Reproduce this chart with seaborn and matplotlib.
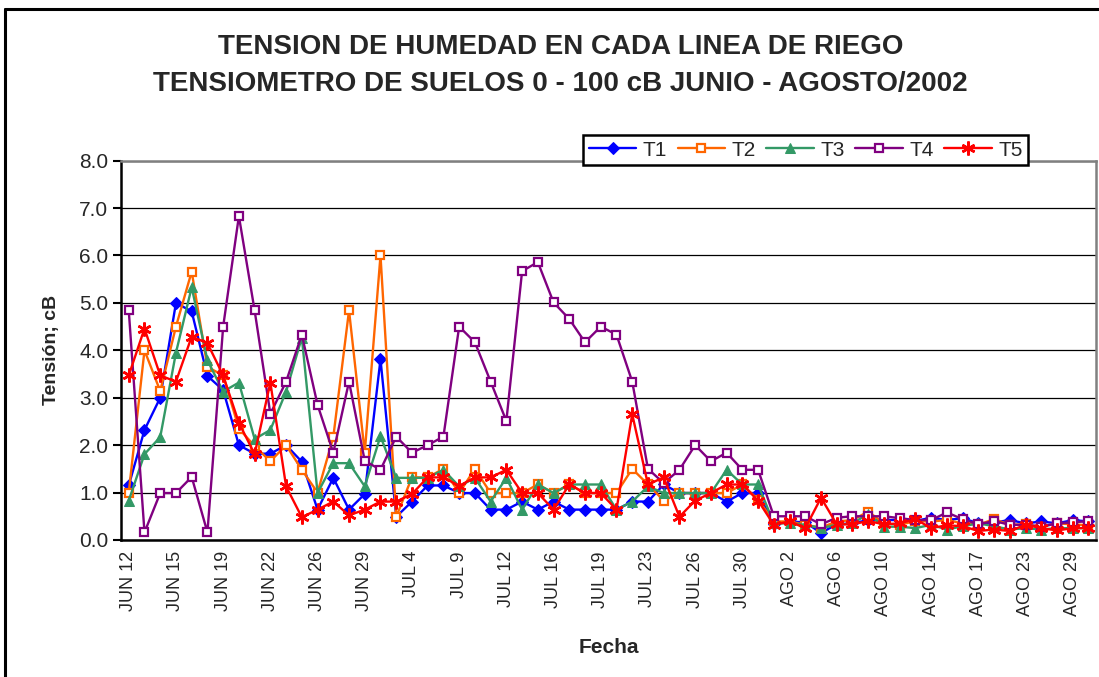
import numpy as np
import pandas as pd
import matplotlib
matplotlib.use('Agg')
import matplotlib.pyplot as plt
import seaborn as sns

# Fechas de lectura (una de cada tres se rotula en el eje)
fechas = ['JUN 12', 'JUN 13', 'JUN 14', 'JUN 15', 'JUN 17', 'JUN 18', 'JUN 19', 'JUN 20', 'JUN 21',
          'JUN 22', 'JUN 24', 'JUN 25', 'JUN 26', 'JUN 27', 'JUN 28', 'JUN 29', 'JUL 1', 'JUL 2',
          'JUL 4', 'JUL 5', 'JUL 8', 'JUL 9', 'JUL 10', 'JUL 11', 'JUL 12', 'JUL 13', 'JUL 15',
          'JUL 16', 'JUL 17', 'JUL 18', 'JUL 19', 'JUL 20', 'JUL 22', 'JUL 23', 'JUL 24', 'JUL 25',
          'JUL 26', 'JUL 27', 'JUL 29', 'JUL 30', 'JUL 31', 'AGO 1', 'AGO 2', 'AGO 3', 'AGO 5',
          'AGO 6', 'AGO 7', 'AGO 9', 'AGO 10', 'AGO 12', 'AGO 13', 'AGO 14', 'AGO 15', 'AGO 16',
          'AGO 17', 'AGO 20', 'AGO 21', 'AGO 23', 'AGO 26', 'AGO 27', 'AGO 29', 'AGO 31']

t1 = [1.15, 2.32, 3.0, 5.0, 4.82, 3.46, 3.16, 2.0, 1.82, 1.82, 2.0, 1.65, 0.64, 1.31, 0.64, 0.97,
      3.81, 0.49, 0.81, 1.15, 1.15, 0.99, 0.99, 0.64, 0.64, 0.81, 0.64, 0.81, 0.64, 0.64, 0.64, 0.64,
      0.81, 0.81, 1.17, 0.99, 0.99, 0.99, 0.81, 0.99, 0.99, 0.33, 0.39, 0.37, 0.15, 0.33, 0.35, 0.42,
      0.42, 0.42, 0.40, 0.47, 0.42, 0.46, 0.35, 0.37, 0.42, 0.35, 0.39, 0.35, 0.42, 0.39]
t2 = [1.0, 4.0, 3.14, 4.5, 5.66, 3.65, 3.47, 2.35, 1.98, 1.66, 2.0, 1.48, 1.0, 2.17, 4.84, 1.84,
      6.0, 0.49, 1.32, 1.32, 1.5, 0.99, 1.5, 0.99, 0.99, 0.99, 1.17, 0.99, 1.17, 0.99, 0.99, 0.99,
      1.5, 1.17, 0.83, 0.99, 0.99, 0.99, 0.99, 1.17, 0.85, 0.39, 0.39, 0.32, 0.26, 0.39, 0.42, 0.6,
      0.35, 0.32, 0.40, 0.39, 0.42, 0.35, 0.32, 0.44, 0.32, 0.33, 0.28, 0.35, 0.33, 0.31]
t3 = [0.83, 1.81, 2.17, 3.95, 5.33, 3.79, 3.13, 3.32, 2.13, 2.32, 3.13, 4.27, 0.99, 1.62, 1.62, 1.13,
      2.19, 1.31, 1.31, 1.31, 1.48, 1.13, 1.31, 0.81, 1.31, 0.64, 1.17, 0.99, 1.17, 1.17, 1.17, 0.64,
      0.81, 1.13, 0.99, 0.99, 0.99, 0.99, 1.48, 1.17, 1.17, 0.35, 0.35, 0.32, 0.25, 0.32, 0.35, 0.55,
      0.28, 0.28, 0.25, 0.32, 0.22, 0.29, 0.35, 0.29, 0.22, 0.25, 0.22, 0.25, 0.25, 0.25]
t4 = [4.84, 0.16, 0.99, 0.99, 1.33, 0.16, 4.5, 6.83, 4.84, 2.66, 3.34, 4.33, 2.85, 1.84, 3.34, 1.67,
      1.48, 2.18, 1.84, 2.0, 2.18, 4.5, 4.17, 3.34, 2.51, 5.67, 5.86, 5.01, 4.66, 4.17, 4.5, 4.33,
      3.34, 1.5, 1.2, 1.48, 2.0, 1.66, 1.84, 1.48, 1.48, 0.5, 0.5, 0.5, 0.33, 0.47, 0.5, 0.5,
      0.5, 0.46, 0.42, 0.42, 0.58, 0.44, 0.33, 0.40, 0.32, 0.32, 0.28, 0.35, 0.37, 0.40]
t5 = [3.47, 4.46, 3.47, 3.34, 4.29, 4.15, 3.47, 2.47, 1.81, 3.32, 1.13, 0.48, 0.64, 0.81, 0.52, 0.64,
      0.81, 0.81, 0.97, 1.32, 1.32, 1.14, 1.32, 1.32, 1.48, 0.99, 0.99, 0.64, 1.17, 0.99, 0.99, 0.64,
      2.65, 1.17, 1.32, 0.49, 0.83, 0.99, 1.17, 1.17, 0.83, 0.32, 0.39, 0.25, 0.89, 0.33, 0.33, 0.40,
      0.33, 0.35, 0.44, 0.25, 0.31, 0.29, 0.19, 0.22, 0.19, 0.32, 0.25, 0.20, 0.25, 0.25]

series = ['T1', 'T2', 'T3', 'T4', 'T5']
valores = [t1, t2, t3, t4, t5]

df = pd.DataFrame({'pos': np.arange(len(fechas)), 'Fecha': fechas})
for nombre, vals in zip(series, valores):
    df[nombre] = vals

sns.set_style('white')
plt.rcParams['font.family'] = ['Liberation Sans', 'DejaVu Sans']

estilos = {
    'T1': dict(color='#0000FF', marker='D', markersize=6.5, markerfacecolor='#0000FF', markeredgecolor='#0000FF'),
    'T2': dict(color='#FF6600', marker='s', markersize=6, markerfacecolor='white', markeredgecolor='#FF6600', markeredgewidth=1.6),
    'T3': dict(color='#339966', marker='^', markersize=7.5, markerfacecolor='#339966', markeredgecolor='#339966'),
    'T4': dict(color='#800080', marker='s', markersize=5.5, markerfacecolor='white', markeredgecolor='#800080', markeredgewidth=1.6),
    'T5': dict(color='#FF0000', marker=(6, 2, 0), markersize=10, markeredgecolor='#FF0000', markeredgewidth=1.8),
}

fig = plt.figure(figsize=(10.99, 6.77), dpi=100)
ax = fig.add_axes([0.110, 0.2024, 0.8876, 0.5603])

for nombre in series:
    sns.lineplot(data=df, x='pos', y=nombre, ax=ax, label=nombre, linewidth=1.7, **estilos[nombre])

ax.set_xlim(-0.5, len(fechas) - 0.5)
ax.set_ylim(0, 8)

# etiquetas cada tres fechas, marcas entre categorias
ax.set_xticks(df['pos'][::3])
ax.set_xticklabels(df['Fecha'][::3], rotation=90, fontsize=13)
ax.set_xticks(np.arange(len(fechas) + 1) - 0.5, minor=True)
ax.tick_params(axis='x', which='major', length=0, pad=8)
ax.tick_params(axis='x', which='minor', length=6, width=1.5, direction='out', color='black')

ax.set_yticks(np.arange(0, 8.1, 1))
ax.set_yticklabels([f'{v:.1f}' for v in np.arange(0, 8.1, 1)], fontsize=15)
ax.tick_params(axis='y', length=6, width=1.5, direction='out', color='black', left=True, pad=3)

ax.grid(axis='y', color='black', linewidth=0.9)
ax.set_axisbelow(True)

for lado in ['left', 'bottom']:
    ax.spines[lado].set_color('black')
    ax.spines[lado].set_linewidth(1.8)
for lado in ['top', 'right']:
    ax.spines[lado].set_color('#808080')
    ax.spines[lado].set_linewidth(1.8)

ax.set_xlabel('Fecha', fontsize=15, fontweight='bold', labelpad=16)
ax.set_ylabel('Tensión; cB', fontsize=14, fontweight='bold', labelpad=14)

leg = ax.legend(loc='center', bbox_to_anchor=(0.702, 1.028), ncol=5, fontsize=15,
                frameon=True, fancybox=False, edgecolor='black', framealpha=1,
                handlelength=2.3, columnspacing=0.5, handletextpad=0.3, borderpad=0.25)
leg.get_frame().set_linewidth(1.8)

fig.text(0.51, 0.930, 'TENSION DE HUMEDAD EN CADA LINEA DE RIEGO', ha='center', va='center',
         fontsize=20, fontweight='bold')
fig.text(0.51, 0.876, 'TENSIOMETRO DE SUELOS 0 - 100 cB JUNIO - AGOSTO/2002', ha='center', va='center',
         fontsize=20, fontweight='bold')

# marco exterior
fig.add_artist(plt.Line2D([0.0045, 0.0045], [0, 0.987], color='black', linewidth=2.2, transform=fig.transFigure))
fig.add_artist(plt.Line2D([0.0045, 1.0], [0.987, 0.987], color='black', linewidth=2.2, transform=fig.transFigure))

fig.savefig('out.png', dpi=100)
